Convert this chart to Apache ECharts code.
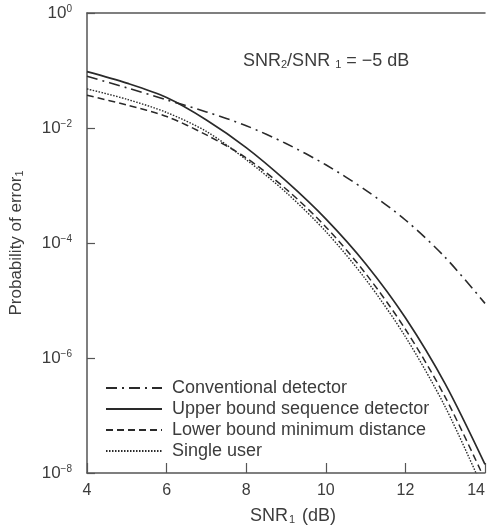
<!DOCTYPE html>
<html><head><meta charset="utf-8">
<script src="https://cdn.jsdelivr.net/npm/echarts@6/dist/echarts.min.js"></script>
<style>html,body{margin:0;padding:0;background:#fff;}#c{width:488px;height:531px;}</style>
</head><body><div id="c"></div>
<script>
// SNR1 in dB
const snrDb = [4, 5, 6, 7, 8, 9, 10, 11, 12, 13, 14];
// log10 of probability of error
const conventionalLog10 = [-1.10, -1.30, -1.51, -1.72, -1.96, -2.27, -2.64, -3.08, -3.60, -4.25, -5.05];
const upperBoundLog10   = [-1.02, -1.22, -1.47, -1.86, -2.34, -2.92, -3.58, -4.36, -5.30, -6.45, -7.85];
const lowerBoundLog10   = [-1.43, -1.60, -1.80, -2.12, -2.52, -3.06, -3.72, -4.53, -5.50, -6.68, -8.12];
const singleUserLog10   = [-1.32, -1.50, -1.73, -2.06, -2.55, -3.12, -3.80, -4.63, -5.63, -6.85, -8.35];
const seriesNames = ['Conventional detector', 'Upper bound sequence detector', 'Lower bound minimum distance', 'Single user'];
const yTickExponents = ['0', '−2', '−4', '−6', '−8'];

const FONT = 'Liberation Sans, Arial, sans-serif';
const TXT = '#3c3c3c';
const LINE = '#2a2a2a';
const AX = '#555';

function toPoints(arr) { return snrDb.map((x, i) => [x, Math.pow(10, arr[i])]); }
function mk(name, arr, type, width) {
  return {
    type: 'line', name: name, data: toPoints(arr), symbol: 'none', showSymbol: false,
    smooth: 0.3, clip: true,
    lineStyle: { color: LINE, width: width, type: type },
    itemStyle: { color: LINE }
  };
}

const chart = echarts.init(document.getElementById('c'), null, { renderer: 'canvas' });
chart.setOption({
  backgroundColor: '#fff',
  animation: false,
  grid: { left: 87, right: -3, top: 13, bottom: 58, containLabel: false },
  legend: {
    orient: 'vertical', left: 100, top: 374, itemWidth: 56, itemHeight: 14, itemGap: 3,
    data: seriesNames,
    itemStyle: { opacity: 0, borderWidth: 0 },
    textStyle: { fontSize: 18, color: TXT, fontFamily: FONT, lineHeight: 18, padding: [0, 0, 0, 5] }
  },
  xAxis: [{
    type: 'value', min: 4, max: 14, interval: 2, position: 'bottom',
    axisLine: { show: true, lineStyle: { color: AX, width: 1.5 } },
    axisTick: { show: true, inside: true, length: 10, lineStyle: { color: AX, width: 1.2 } },
    axisLabel: { fontSize: 16, color: TXT, fontFamily: FONT, margin: 10, alignMaxLabel: 'right' },
    splitLine: { show: false },
    name: '{a|SNR}{s|1}{a| (dB)}', nameLocation: 'middle', nameGap: 34,
    nameTextStyle: { padding: [0, 0, 0, 14], rich: {
      a: { fontSize: 18, color: TXT, fontFamily: FONT },
      s: { fontSize: 11, color: TXT, fontFamily: FONT, verticalAlign: 'bottom', padding: [0, 2, 0, 1] }
    } }
  }, {
    type: 'value', min: 4, max: 14, position: 'top',
    axisLine: { show: true, lineStyle: { color: AX, width: 1.5 } },
    axisTick: { show: false }, axisLabel: { show: false }, splitLine: { show: false }
  }],
  yAxis: {
    type: 'log', logBase: 10, min: 1e-8, max: 1, interval: 2,
    axisLine: { show: true, lineStyle: { color: AX, width: 1.5 } },
    axisTick: { show: true, inside: true, length: 8, lineStyle: { color: AX, width: 1.2 } },
    splitLine: { show: false },
    axisLabel: {
      margin: 15, fontFamily: FONT,
      formatter: function (v) {
        const e = Math.round(Math.log10(v));
        return '{b|10}{s|' + yTickExponents[Math.round(-e / 2)] + '}';
      },
      rich: {
        b: { fontSize: 17, color: TXT, fontFamily: FONT, lineHeight: 18 },
        s: { fontSize: 10, color: TXT, fontFamily: FONT, verticalAlign: 'top', lineHeight: 10 }
      }
    },
    name: '{a|Probability of error}{s|1}', nameLocation: 'middle', nameGap: 62,
    nameTextStyle: { padding: [0, 0, 0, 0], rich: {
      a: { fontSize: 17, color: TXT, fontFamily: FONT },
      s: { fontSize: 11, color: TXT, fontFamily: FONT, verticalAlign: 'bottom' }
    } }
  },
  graphic: [{
    type: 'text', left: 243, top: 52,
    style: {
      text: '{a|SNR}{s|2}{a|/SNR }{s|1}{a| = −5 dB}',
      rich: {
        a: { fontSize: 18, fill: TXT, fontFamily: FONT },
        s: { fontSize: 11, fill: TXT, fontFamily: FONT, verticalAlign: 'bottom' }
      }
    }
  }],
  series: [
    mk(seriesNames[0], conventionalLog10, [11, 5, 2, 5], 1.6),
    mk(seriesNames[1], upperBoundLog10, 'solid', 1.7),
    mk(seriesNames[2], lowerBoundLog10, [7, 4], 1.5),
    mk(seriesNames[3], singleUserLog10, [1.5, 1.5], 1.4)
  ]
});
</script></body></html>
